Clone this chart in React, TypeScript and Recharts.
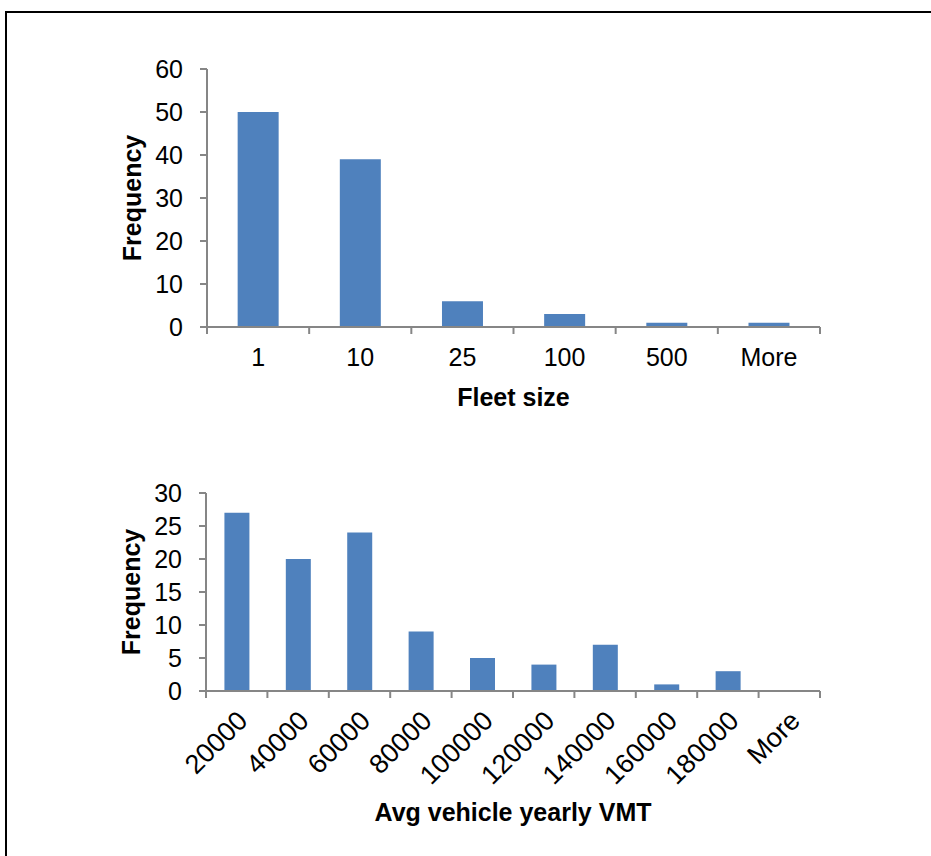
import React from 'react';
import { BarChart, Bar, XAxis, YAxis, Label } from 'recharts';

const fleetCategories = ['1', '10', '25', '100', '500', 'More'];
const fleetFrequency = [50, 39, 6, 3, 1, 1];
const fleetYTicks = [0, 10, 20, 30, 40, 50, 60];

const vmtCategories = ['20000', '40000', '60000', '80000', '100000', '120000', '140000', '160000', '180000', 'More'];
const vmtFrequency = [27, 20, 24, 9, 5, 4, 7, 1, 3, 0];
const vmtYTicks = [0, 5, 10, 15, 20, 25, 30];

const fleetData = fleetCategories.map((name, i) => ({ name, value: fleetFrequency[i] }));
const vmtData = vmtCategories.map((name, i) => ({ name, value: vmtFrequency[i] }));

const FONT = 'Liberation Sans, Arial, sans-serif';
const AXIS = '#868686';
const BAR = '#4F81BD';
const FS = 25;
const TICK = 7;

const YTitle = (props: any) => {
  const vb = props.viewBox || {};
  const x = vb.x - 15;
  const y = vb.y + vb.height / 2;
  return (
    <text x={x} y={y} transform={`rotate(-90, ${x}, ${y})`} textAnchor="middle" dominantBaseline="central"
      fontFamily={FONT} fontSize={FS} fontWeight="bold" fill="#000">Frequency</text>
  );
};

const makeXTitle = (text: string, dy: number) => (props: any) => {
  const vb = props.viewBox || {};
  return (
    <text x={vb.x + vb.width / 2} y={vb.y + dy} textAnchor="middle" dominantBaseline="central"
      fontFamily={FONT} fontSize={FS} fontWeight="bold" fill="#000">{text}</text>
  );
};

// category tick: label at band centre, tick marks at band boundaries
const makeCatTick = (count: number, margin: number, rotated: boolean) => (props: any) => {
  const { x, y, payload, index } = props;
  const half = payload && typeof payload.offset === 'number' ? payload.offset : 0;
  const axisY = y - TICK - margin;
  const lines = [x - half];
  if (index === count - 1) lines.push(x + half);
  let label;
  if (rotated) {
    const ax = x + 6;
    const ay = y + 11;
    label = (
      <text x={ax} y={ay} transform={`rotate(-45, ${ax}, ${ay})`} textAnchor="end" dominantBaseline="central"
        fontFamily={FONT} fontSize={27} fill="#000">{payload.value}</text>
    );
  } else {
    label = (
      <text x={x} y={y} textAnchor="middle" dominantBaseline="hanging"
        fontFamily={FONT} fontSize={FS} fill="#000">{payload.value}</text>
    );
  }
  return (
    <g>
      {lines.map((lx, i) => (
        <line key={i} x1={lx} x2={lx} y1={axisY} y2={axisY + TICK} stroke={AXIS} strokeWidth={2} />
      ))}
      {label}
    </g>
  );
};

const fleetTick = makeCatTick(fleetCategories.length, 14, false);
const vmtTick = makeCatTick(vmtCategories.length, 7, true);

export default function App() {
  return (
    <div style={{ position: 'fixed', left: 0, top: 0, width: 931, height: 856, overflow: 'hidden', background: '#fff' }}>
      <div style={{ position: 'absolute', left: 5, top: 11, width: 1000, height: 1000, border: '2px solid #000' }} />
      <div style={{ position: 'absolute', left: 0, top: 0 }}>
        <BarChart width={931} height={440} data={fleetData} barCategoryGap="30%"
          margin={{ top: 69, right: 111, bottom: 73, left: 147 }}>
          <XAxis dataKey="name" height={40} tickLine={false} tickSize={TICK} tickMargin={14} interval={0}
            axisLine={{ stroke: AXIS, strokeWidth: 2 }} tick={fleetTick}>
            <Label content={makeXTitle('Fleet size', 70)} />
          </XAxis>
          <YAxis domain={[0, 60]} ticks={fleetYTicks} width={60} tickSize={TICK} tickMargin={17} interval={0}
            axisLine={{ stroke: AXIS, strokeWidth: 2 }} tickLine={{ stroke: AXIS, strokeWidth: 2 }}
            tick={{ fontFamily: FONT, fontSize: FS, fill: '#000' }}>
            <Label content={YTitle} />
          </YAxis>
          <Bar dataKey="value" fill={BAR} isAnimationActive={false} />
        </BarChart>
      </div>
      <div style={{ position: 'absolute', left: 0, top: 440 }}>
        <BarChart width={931} height={416} data={vmtData} barCategoryGap="30%"
          margin={{ top: 53, right: 111, bottom: 65, left: 146 }}>
          <XAxis dataKey="name" height={100} tickLine={false} tickSize={TICK} tickMargin={7} interval={0}
            axisLine={{ stroke: AXIS, strokeWidth: 2 }} tick={vmtTick}>
            <Label content={makeXTitle('Avg vehicle yearly VMT', 121)} />
          </XAxis>
          <YAxis domain={[0, 30]} ticks={vmtYTicks} width={60} tickSize={TICK} tickMargin={17} interval={0}
            axisLine={{ stroke: AXIS, strokeWidth: 2 }} tickLine={{ stroke: AXIS, strokeWidth: 2 }}
            tick={{ fontFamily: FONT, fontSize: FS, fill: '#000' }}>
            <Label content={YTitle} />
          </YAxis>
          <Bar dataKey="value" fill={BAR} isAnimationActive={false} />
        </BarChart>
      </div>
    </div>
  );
}
